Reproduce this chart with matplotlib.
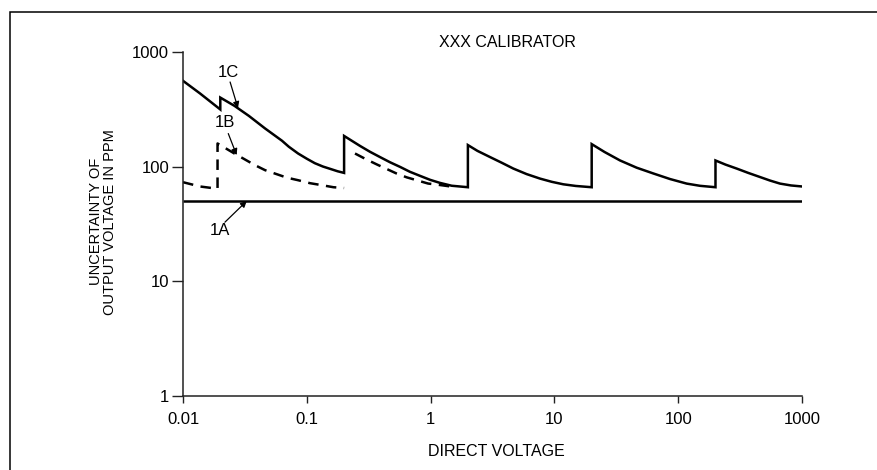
import numpy as np
import matplotlib
matplotlib.use('Agg')
import matplotlib.pyplot as plt
from matplotlib.patches import Rectangle

plt.rcParams['font.family'] = ['Liberation Sans', 'DejaVu Sans']

# values (log-log axes)
# curve 1C, solid sawtooth (repeated x = vertical jump)
v_1c = [0.01, 0.0137, 0.02,
        0.02, 0.026, 0.034, 0.046, 0.063, 0.0715, 0.085, 0.1, 0.116, 0.135, 0.159, 0.177, 0.2,
        0.2, 0.27, 0.324, 0.39, 0.47, 0.57, 0.68, 0.82, 0.99, 1.19, 1.48, 2,
        2, 2.39, 3.02, 3.75, 4.66, 5.97, 7.65, 9.51, 11.8, 14.9, 20,
        20, 25.4, 33.9, 46.2, 63, 85.9, 117, 150, 200,
        200, 241, 297, 368, 458, 551, 664, 815, 1000]
u_1c = [560, 435, 315,
        400, 339, 277, 215, 168, 149, 130, 117, 107, 100, 94.5, 91, 88,
        185, 151, 134.5, 121, 109, 99, 90, 83, 76.6, 72, 68, 66,
        154, 137, 121, 108, 96, 85.9, 78.5, 73.6, 70, 67.7, 66,
        157, 134, 113, 97.7, 87, 77.8, 71, 67.9, 66,
        113, 104, 96, 88, 81, 75.5, 71, 68.4, 67]

# curve 1B, dashed (nan = gap)
v_1b = [0.01, 0.0137, 0.019,
        0.019, 0.026, 0.038, 0.046, 0.055, 0.069, 0.085, 0.106, 0.13, 0.164, 0.2,
        np.nan,
        0.245, 0.30, 0.37, 0.53, 0.641, 0.77, 0.953, 1.19, 1.6]
u_1b = [73, 67, 64,
        159, 130, 103, 93, 87, 80, 76, 71.6, 69, 66, 65,
        np.nan,
        130, 116, 104, 87, 80.5, 76, 71.1, 69, 66]

# curve 1A, flat
v_1a = [0.01, 1000]
u_1a = [50, 50]

x_ticks = [0.01, 0.1, 1, 10, 100, 1000]
x_tick_labels = ['0.01', '0.1', '1', '10', '100', '1000']
y_ticks = [1, 10, 100, 1000]
y_tick_labels = ['1', '10', '100', '1000']

# label text, arrow tail, arrow tip
notes = [
    ('1C', (0.0231, 668), (0.024, 547), (0.0278, 324)),
    ('1B', (0.0218, 241), (0.0232, 194), (0.0271, 126)),
    ('1A', (0.0199, 27.7), (0.0218, 32.7), (0.0327, 50)),
]

fig = plt.figure(figsize=(8.77, 4.70), dpi=100)
ax = fig.add_axes([0.2087, 0.1581, 0.7058, 0.7313])

ax.plot(v_1a, u_1a, color='black', lw=1.8, solid_capstyle='butt')
ax.plot(v_1b, u_1b, color='black', lw=1.8, dashes=(4.2, 3.0))
ax.plot(v_1c, u_1c, color='black', lw=1.8, solid_joinstyle='miter')

for label, txt, tail, tip in notes:
    ax.text(txt[0], txt[1], label, ha='center', va='center', fontsize=12)
    ax.annotate('', xy=tip, xytext=tail,
                arrowprops=dict(arrowstyle='-|>', lw=0.9, color='black',
                                mutation_scale=9, shrinkA=0, shrinkB=0))

ax.set_xscale('log')
ax.set_yscale('log')
ax.set_xlim(0.01, 1000)
ax.set_ylim(1, 1000)
ax.set_xticks(x_ticks, x_tick_labels)
ax.set_yticks(y_ticks, y_tick_labels)
ax.minorticks_off()

for s in ['top', 'right']:
    ax.spines[s].set_visible(False)
for s in ['left', 'bottom']:
    ax.spines[s].set_color('#222222')
    ax.spines[s].set_linewidth(1.1)
ax.tick_params(axis='x', length=5, width=1.0, pad=7, labelsize=12, color='#222222')
ax.tick_params(axis='y', length=8, width=1.0, pad=2, labelsize=12, color='#222222')

fig.text(0.579, 0.91, 'XXX CALIBRATOR', ha='center', va='center', fontsize=11.5)
fig.text(0.566, 0.039, 'DIRECT VOLTAGE', ha='center', va='center', fontsize=11.5)
fig.text(0.117, 0.528, 'UNCERTAINTY OF\nOUTPUT VOLTAGE IN PPM', ha='center', va='center',
         rotation=90, fontsize=10.5, linespacing=1.0)

# outer frame (runs off the right and bottom edges)
fig.patches.append(Rectangle((9.5 / 877, -0.1), 1.2, 1.1 - 12.3 / 470, transform=fig.transFigure,
                             fill=False, lw=1.1, edgecolor='black'))

fig.savefig('out.png', dpi=100)
